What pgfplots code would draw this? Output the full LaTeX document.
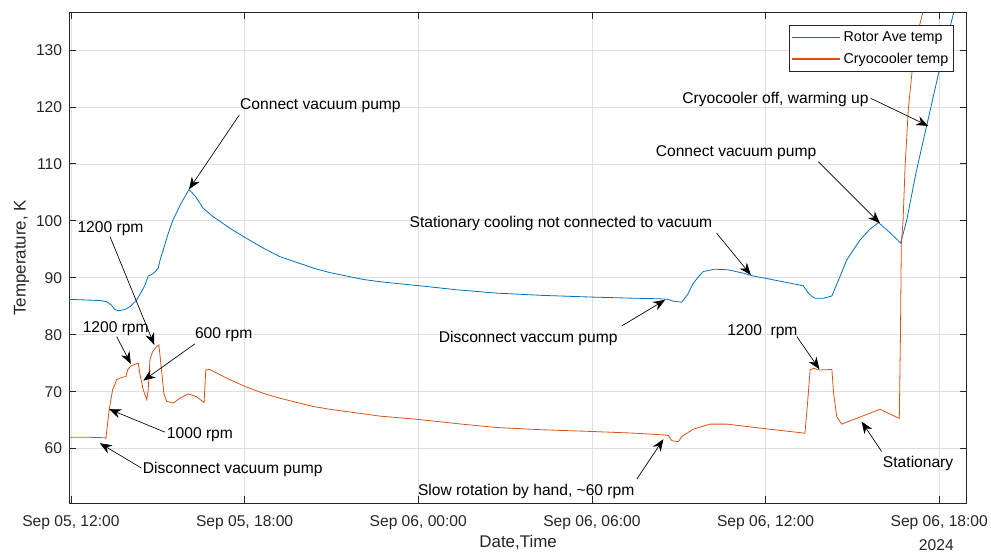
\documentclass[border=0pt]{standalone}
\usepackage{pgfplots}
\pgfplotsset{compat=1.18}
\usepackage{fontspec}
\setmainfont{Liberation Sans}
\usetikzlibrary{arrows.meta}
\definecolor{mblue}{rgb}{0,0.447,0.741}
\definecolor{morange}{rgb}{0.85,0.325,0.098}
\definecolor{axgray}{HTML}{262626}
\definecolor{gridgray}{HTML}{DFDFDF}
\newcommand{\annfont}{\fontsize{11.7}{14}\selectfont}

\pgfplotstableread{
x y
-0.05 86.2
0.5 86.1
1.0 86.0
1.23 85.8
1.4 85.2
1.52 84.4
1.64 84.2
1.85 84.4
2.04 84.9
2.27 86.1
2.42 87.4
2.56 88.7
2.67 90.3
2.84 90.7
3.02 91.7
3.08 93.1
3.19 94.9
3.35 97.6
3.53 100.2
3.8 103.0
4.08 105.5
4.3 104.3
4.57 102.2
4.92 100.7
5.49 98.7
6.07 96.9
6.65 95.2
7.22 93.7
7.80 92.7
8.37 91.7
8.95 90.9
9.53 90.3
10.1 89.7
10.68 89.3
11.25 89.0
11.83 88.7
12.4 88.4
13.3 87.9
14.71 87.3
16.3 86.9
18.03 86.6
19.5 86.4
20.35 86.3
20.64 86.2
20.8 85.9
21.1 85.7
21.3 87.0
21.5 89.0
21.7 90.3
21.85 91.1
22.25 91.5
22.7 91.4
23.23 90.8
23.58 90.3
24.0 89.9
24.6 89.3
25.3 88.6
25.48 87.3
25.6 86.7
25.71 86.4
26.0 86.4
26.29 86.8
26.57 90.2
26.8 93.1
27.26 96.6
27.6 98.5
27.9 99.7
28.3 97.9
28.67 96.1
28.88 100.2
29.2 108.5
29.57 116.8
30.03 127.1
30.49 136.4
30.7 141.0
}\rotor

\pgfplotstableread{
x y
-0.05 62.0
0.5 62.0
1.19 61.9
1.21 61.8
1.32 66.8
1.44 70.3
1.58 72.1
1.75 72.5
1.9 72.65
1.96 73.8
2.06 74.5
2.33 75.0
2.38 73.2
2.5 70.3
2.62 68.6
2.67 70.3
2.73 75.6
2.82 77.0
2.96 77.9
3.04 78.2
3.13 73.8
3.21 69.7
3.31 68.3
3.54 68.0
3.77 68.85
4.05 69.6
4.34 69.1
4.6 68.1
4.66 73.8
4.78 73.9
5.49 72.1
6.07 70.8
6.65 69.7
7.22 68.85
7.80 68.1
8.37 67.4
8.95 66.9
9.53 66.5
10.68 65.7
11.83 65.2
12.4 64.9
13.5 64.3
14.71 63.7
16.3 63.3
18.03 63.0
19.5 62.7
20.47 62.4
20.64 62.3
20.76 61.4
20.99 61.2
21.1 62.1
21.5 63.4
22.08 64.3
22.66 64.3
23.81 63.6
25.36 62.7
25.38 63.9
25.45 68.0
25.54 73.8
25.65 74.1
25.88 73.8
26.29 73.9
26.35 69.7
26.46 65.6
26.63 64.3
27.95 66.9
28.62 65.3
28.66 80.0
28.69 96.0
28.75 100.0
28.82 109.5
28.93 119.5
29.1 128.2
29.28 133.5
29.45 137.0
29.6 140.0
}\cryo

\begin{document}
\begin{tikzpicture}
\useasboundingbox (-52.1pt,-38pt) rectangle (691.1pt,377.2pt);
\begin{axis}[
  at={(0,0)}, anchor=south west,
  scale only axis, width=672.9pt, height=367.7pt,
  xmin=-0.05, xmax=30.95, ymin=50.45, ymax=136.55,
  clip mode=individual,
  xtick={0,6,12,18,24,30},
  xticklabels={{Sep 05, 12:00},{Sep 05, 18:00},{Sep 06, 00:00},{Sep 06, 06:00},{Sep 06, 12:00},{Sep 06, 18:00}},
  ytick={60,70,...,130},
  tick align=inside, tick pos=both,
  major tick length=5pt,
  every tick/.style={axgray, line width=0.6pt},
  axis line style={axgray, line width=0.6pt},
  grid=major,
  major grid style={gridgray, line width=0.5pt},
  /pgf/number format/assume math mode=true,
  ticklabel style={font=\annfont, text=axgray},
  xticklabel style={anchor=center, yshift=-14.5pt},
  yticklabel style={anchor=east, xshift=-2pt},
  xlabel={Date,Time},
  ylabel={Temperature, K},
  label style={font=\fontsize{12.7}{15}\selectfont, text=axgray},
  xlabel style={at={(axis description cs:0.5,-0.081)}, anchor=center},
  ylabel style={at={(axis description cs:-0.0533,0.5)}, anchor=center},
  legend style={at={(0.9858,0.9749)}, anchor=north east, draw=axgray, line width=0.5pt,
    font=\fontsize{10.7}{12}\selectfont, inner xsep=2pt, inner ysep=2.5pt, row sep=3.3pt},
  legend cell align=left,
  legend image code/.code={\draw[#1] (0pt,0pt) -- (36pt,0pt);},
]
\addlegendimage{draw=mblue, line width=0.8pt}
\addlegendentry{Rotor Ave temp}
\addlegendimage{draw=morange, line width=0.8pt}
\addlegendentry{Cryocooler temp}
\addplot[draw=mblue, line width=0.6pt, forget plot] table[x=x,y=y]{\rotor};
\addplot[draw=morange, line width=0.6pt, forget plot] table[x=x,y=y]{\cryo};

\tikzset{ann/.style={font=\annfont, inner sep=0pt, text=black},
  arr/.style={-{Stealth[length=9pt,width=7pt]}, line width=0.5pt, black}}

\node[ann, anchor=west] at (axis cs:5.84,120.29) {Connect vacuum pump};
\draw[arr] (axis cs:5.82,118.59) -- (axis cs:4.08,105.54);
\node[ann, anchor=west] at (axis cs:0.22,98.70) {1200 rpm};
\draw[arr] (axis cs:1.35,97.22) -- (axis cs:2.88,78.21);
\node[ann, anchor=west] at (axis cs:0.40,81.14) {1200 rpm};
\draw[arr] (axis cs:1.58,79.67) -- (axis cs:2.07,74.87);
\node[ann, anchor=west] at (axis cs:4.28,79.97) {600 rpm};
\draw[arr] (axis cs:4.28,78.38) -- (axis cs:2.50,71.94);
\node[ann, anchor=west] at (axis cs:3.31,62.53) {1000 rpm};
\draw[arr] (axis cs:3.25,62.88) -- (axis cs:1.32,66.92);
\node[ann, anchor=west] at (axis cs:2.48,56.26) {Disconnect vacuum pump};
\draw[arr] (axis cs:2.44,56.56) -- (axis cs:1.00,60.95);
\node[ann] at (axis cs:15.80,79.39) {Disconnect vaccum pump};
\draw[arr] (axis cs:19.03,81.54) -- (axis cs:20.53,86.11);
\node[ann] at (axis cs:15.73,52.45) {Slow rotation by hand, \textasciitilde 60 rpm};
\draw[arr] (axis cs:19.55,54.63) -- (axis cs:20.47,61.65);
\node[ann] at (axis cs:16.93,99.45) {Stationary cooling not connected to vacuum};
\draw[arr] (axis cs:22.31,97.82) -- (axis cs:23.49,90.50);
\node[ann] at (axis cs:22.98,111.97) {Connect vacuum pump};
\draw[arr] (axis cs:25.82,110.39) -- (axis cs:27.95,99.57);
\node[ann] at (axis cs:24.34,121.34) {Cryocooler off, warming up};
\draw[arr] (axis cs:27.63,121.52) -- (axis cs:29.62,116.66);
\node[ann] at (axis cs:23.89,80.55) {1200\hspace{0.55em}rpm};
\draw[arr] (axis cs:25.08,79.67) -- (axis cs:25.86,73.94);
\node[ann] at (axis cs:29.27,57.44) {Stationary};
\draw[arr] (axis cs:28.01,59.48) -- (axis cs:27.32,64.74);

\node[font=\annfont, text=axgray, inner sep=0pt] at ([yshift=-31.3pt]axis cs:29.9,50.45) {2024};
\end{axis}
\end{tikzpicture}
\end{document}
